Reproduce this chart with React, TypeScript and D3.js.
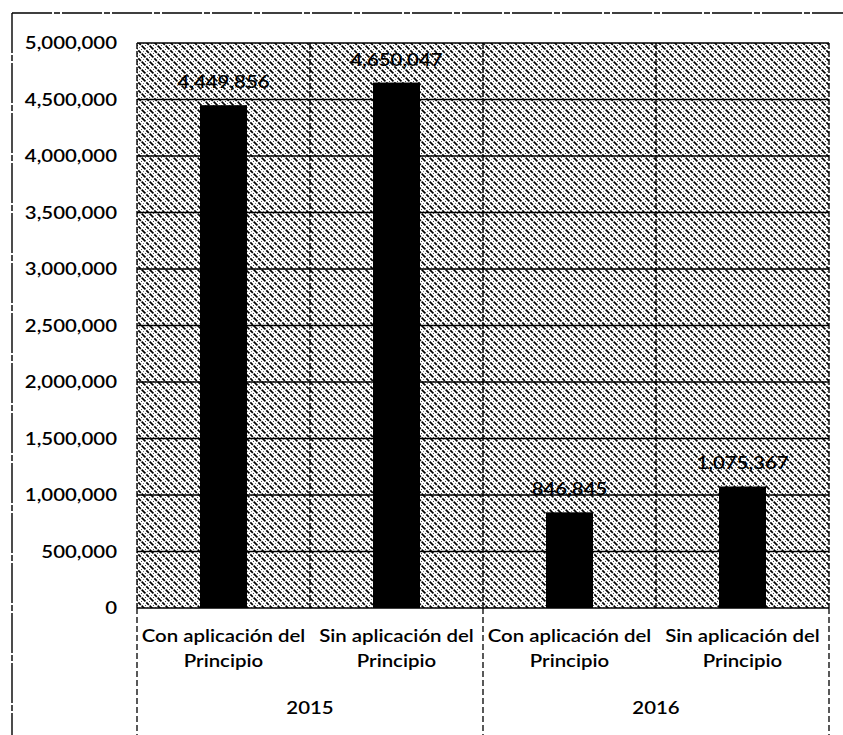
import React from "react";
import * as d3 from "d3";

const categories = ["Con aplicación del Principio", "Sin aplicación del Principio", "Con aplicación del Principio", "Sin aplicación del Principio"];
const years = ["2015", "2016"];
const values = [4449856, 4650047, 846845, 1075367];
const yTicks = [0, 500000, 1000000, 1500000, 2000000, 2500000, 3000000, 3500000, 4000000, 4500000, 5000000];

const W = 843, H = 735;
const left = 137, right = 829, top = 43, bottom = 608;
const FONT = "Lato, 'Open Sans', sans-serif";
const SX = 1.2;

function T({ x, y, anchor, children, size = 17 }: { x: number; y: number; anchor: string; children: React.ReactNode; size?: number }) {
  return (
    <g transform={`translate(${x},${y}) scale(${SX},1)`}>
      <text x={0} y={0} textAnchor={anchor} fontFamily={FONT} fontSize={size} fontWeight={600} fill="#000">
        {children}
      </text>
    </g>
  );
}

export default function App() {
  const y = d3.scaleLinear().domain([0, 5000000]).range([bottom, top]);
  const x = d3.scaleBand().domain(d3.range(values.length).map(String)).range([left, right]).paddingInner(0).paddingOuter(0);
  const bw = 47;
  const fmt = d3.format(",");
  const groupW = (right - left) / years.length;
  return (
    <div style={{ position: "absolute", left: 0, top: 0 }}>
      <svg width={W} height={H} style={{ display: "block", background: "#fff" }}>
        <defs>
          <pattern id="hatch" width="8" height="8" patternUnits="userSpaceOnUse">
            <rect width="8" height="8" fill="#fff" />
            <path d="M-1,-1 L9,9 M-1,7 L1,9 M7,-1 L9,1" stroke="#000" strokeWidth="1.7" strokeDasharray="3.5,1.2" />
            <path d="M3,-1 L9,5 M-1,3 L5,9" stroke="#000" strokeWidth="1" strokeDasharray="1,2.2" />
          </pattern>
        </defs>
        {/* outer border */}
        <line x1={12} y1={13} x2={W} y2={13} stroke="#000" strokeWidth={1.6} strokeDasharray="40,2,6,2" />
        <line x1={12} y1={13} x2={12} y2={H} stroke="#000" strokeWidth={1.4} strokeDasharray="40,2,6,2" />
        {/* plot background */}
        <rect x={left} y={top} width={right - left} height={bottom - top} fill="url(#hatch)" />
        {/* horizontal gridlines */}
        {yTicks.map((t) => (
          <line key={t} x1={left} x2={right} y1={y(t)} y2={y(t)} stroke="#000" strokeWidth={1.6} />
        ))}
        {/* vertical gridlines at category boundaries */}
        {d3.range(values.length + 1).map((i) => {
          const xx = left + i * x.bandwidth();
          return <line key={i} x1={xx} x2={xx} y1={top} y2={bottom} stroke="#000" strokeWidth={1.4} strokeDasharray="6,2" />;
        })}
        {/* bars */}
        {values.map((v, i) => {
          const cx = (x(String(i)) as number) + x.bandwidth() / 2;
          return <rect key={i} x={cx - bw / 2} y={y(v)} width={bw} height={bottom - y(v)} fill="#000" />;
        })}
        {/* value labels */}
        {values.map((v, i) => {
          const cx = (x(String(i)) as number) + x.bandwidth() / 2;
          return (
            <T key={i} x={cx} y={y(v) - 17} anchor="middle">
              {fmt(v)}
            </T>
          );
        })}
        {/* y axis labels */}
        {yTicks.map((t) => (
          <T key={t} x={117} y={y(t) + 6} anchor="end">
            {fmt(t)}
          </T>
        ))}
        {/* category labels */}
        {categories.map((c, i) => {
          const cx = (x(String(i)) as number) + x.bandwidth() / 2;
          const parts = [c.replace(" Principio", ""), "Principio"];
          return (
            <g key={i}>
              <T x={cx} y={642} anchor="middle">{parts[0]}</T>
              <T x={cx} y={667} anchor="middle">{parts[1]}</T>
            </g>
          );
        })}
        {/* group separators */}
        {d3.range(years.length + 1).map((i) => {
          const xx = left + i * groupW;
          return <line key={i} x1={xx} x2={xx} y1={bottom} y2={H} stroke="#000" strokeWidth={1.3} strokeDasharray="6,3" />;
        })}
        {years.map((yr, i) => (
          <T key={yr} x={left + (i + 0.5) * groupW} y={714} anchor="middle">
            {yr}
          </T>
        ))}
      </svg>
    </div>
  );
}
